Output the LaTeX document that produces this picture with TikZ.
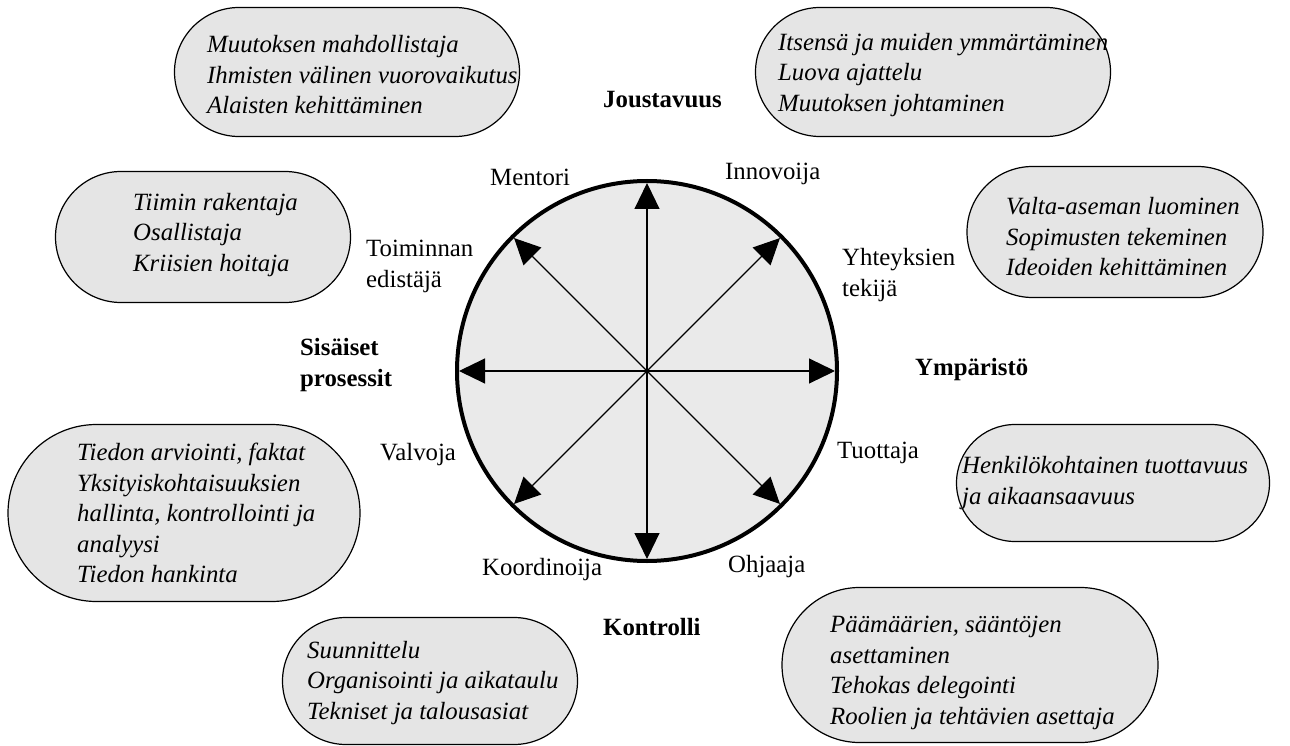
\documentclass[tikz,border=0pt]{standalone}
\usepackage{fontspec}
\setmainfont{Liberation Serif}
\usetikzlibrary{arrows.meta,positioning,shapes.misc}
\definecolor{boxgray}{HTML}{E5E5E5}
\definecolor{wheelgray}{HTML}{EAEAEA}
\tikzset{
  skillbox/.style={rounded rectangle, draw, line width=1.2pt, fill=boxgray, inner sep=0pt},
  skilltext/.style={anchor=west, align=left, inner sep=0pt, font=\itshape\fontsize{24.8}{30.5}\selectfont},
  role/.style={anchor=west, align=left, inner sep=0pt, font=\fontsize{24.8}{31}\selectfont},
  axislabel/.style={anchor=west, align=left, inner sep=0pt, font=\bfseries\fontsize{24.8}{30.5}\selectfont},
  spoke/.style={-{Triangle[length=26pt,width=25pt]}, line width=1.1pt, shorten >=4pt},
}
\begin{document}
\begin{tikzpicture}[x=1pt,y=-1pt]
        \useasboundingbox (0,0) rectangle (1290,746);
        % the wheel
        \node[circle, draw, line width=4pt, fill=wheelgray, minimum size=380pt] (wheel) at (647,371) {};
        \foreach \a in {0,45,...,315}
            \draw[spoke] (wheel.center) -- (wheel.\a);
        % roles round the wheel
        \node[role] (mentor) at (490,177) {Mentori};
        \node[role] (innovator) at (725,174) {Innovoija};
        \node[role] (facilitator) at (366,266) {Toiminnan\\edistäjä};
        \node[role] (broker) at (842,275) {Yhteyksien\\tekijä};
        \node[role] (monitor) at (380,455) {Valvoja};
        \node[role] (producer) at (837,453) {Tuottaja};
        \node[role] (coordinator) at (482,570) {Koordinoija};
        \node[role] (director) at (728,567) {Ohjaaja};
        % the four directions
        \node[axislabel] (flexibility) at (603,100) {Joustavuus};
        \node[axislabel] (internal) at (300,365) {Sisäiset\\prosessit};
        \node[axislabel] (external) at (915,370) {Ympäristö};
        \node[axislabel] (control) at (603,627) {Kontrolli};
        % skills of each role
        \node[skillbox, minimum width=345pt, minimum height=129pt] (mentorbox) at (347,72) {};
        \node[skilltext] (mentorskills) at (207,75)
            {Muutoksen mahdollistaja\\Ihmisten välinen vuorovaikutus\\Alaisten kehittäminen};
        \node[skillbox, minimum width=355pt, minimum height=129pt] (innovatorbox) at (933,72) {};
        \node[skilltext] (innovatorskills) at (778,75)
            {Itsensä ja muiden ymmärtäminen\\Luova ajattelu\\Muutoksen johtaminen};
        \node[skillbox, minimum width=295pt, minimum height=131pt] (facilitatorbox) at (203,237) {};
        \node[skilltext] (facilitatorskills) at (133,235)
            {Tiimin rakentaja\\Osallistaja\\Kriisien hoitaja};
        \node[skillbox, minimum width=296pt, minimum height=131pt] (brokerbox) at (1115,232) {};
        \node[skilltext] (brokerskills) at (1006,237)
            {Valta-aseman luominen\\Sopimusten tekeminen\\Ideoiden kehittäminen};
        \node[skillbox, minimum width=352pt, minimum height=177pt] (monitorbox) at (184,513) {};
        \node[skilltext] (monitorskills) at (77,513)
            {Tiedon arviointi, faktat\\Yksityiskohtaisuuksien\\hallinta, kontrollointi ja\\analyysi\\Tiedon hankinta};
        \node[skillbox, minimum width=313pt, minimum height=117pt] (producerbox) at (1113,483) {};
        \node[skilltext] (producerskills) at (962,483)
            {Henkilökohtainen tuottavuus\\ja aikaansaavuus};
        \node[skillbox, minimum width=295pt, minimum height=127pt] (coordinatorbox) at (430,681) {};
        \node[skilltext] (coordinatorskills) at (307,683)
            {Suunnittelu\\Organisointi ja aikataulu\\Tekniset ja talousasiat};
        \node[skillbox, minimum width=376pt, minimum height=155pt] (directorbox) at (970,665) {};
        \node[skilltext] (directorskills) at (830,673)
            {Päämäärien, sääntöjen\\asettaminen\\Tehokas delegointi\\Roolien ja tehtävien asettaja};
    \end{tikzpicture}
\end{document}
